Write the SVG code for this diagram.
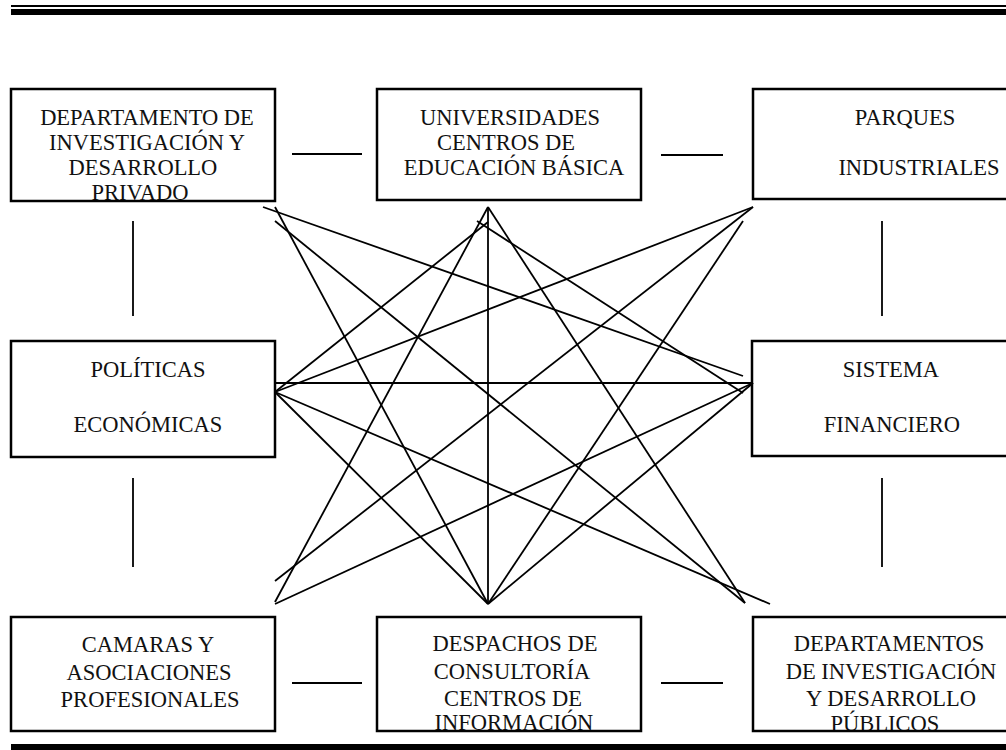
<svg xmlns="http://www.w3.org/2000/svg" width="1006" height="750" viewBox="0 0 1006 750">
<style>
.box{fill:none;stroke:#000;stroke-width:2.5}
.t{font-family:"Liberation Serif","Times New Roman",serif;font-size:22.5px;fill:#111;text-anchor:middle}
.c line{stroke:#000;stroke-width:1.8}
.rule{fill:#000}
</style>
<rect width="1006" height="750" fill="#fff"/>
<g id="rules">
<rect class="rule" x="11" y="5" width="995" height="2"/>
<rect class="rule" x="11" y="9" width="995" height="6"/>
<rect class="rule" x="11" y="744" width="995" height="6"/>
</g>
<g class="c" id="connectors">
<line x1="292" y1="154" x2="362" y2="154"/>
<line x1="661" y1="155" x2="723" y2="155"/>
<line x1="292" y1="683" x2="362" y2="683"/>
<line x1="661" y1="683" x2="723" y2="683"/>
<line x1="133" y1="221" x2="133" y2="316"/>
<line x1="133" y1="478" x2="133" y2="567"/>
<line x1="882" y1="221" x2="882" y2="316"/>
<line x1="882" y1="478" x2="882" y2="567"/>
<line x1="263" y1="207" x2="743" y2="376"/>
<line x1="275" y1="207" x2="488" y2="604"/>
<line x1="275" y1="221" x2="745" y2="603"/>
<line x1="488" y1="207" x2="488" y2="604"/>
<line x1="488" y1="207" x2="275" y2="602"/>
<line x1="488" y1="222" x2="275" y2="392"/>
<line x1="477" y1="221" x2="743" y2="393"/>
<line x1="488" y1="207" x2="745" y2="603"/>
<line x1="753" y1="207" x2="275" y2="392"/>
<line x1="753" y1="207" x2="275" y2="581"/>
<line x1="743" y1="221" x2="488" y2="604"/>
<line x1="275" y1="383" x2="753" y2="383"/>
<line x1="275" y1="392" x2="488" y2="604"/>
<line x1="275" y1="392" x2="770" y2="604"/>
<line x1="753" y1="383" x2="275" y2="604"/>
<line x1="753" y1="383" x2="488" y2="604"/>
</g>
<g id="n1">
<text class="t" x="147" y="125">DEPARTAMENTO DE</text>
<text class="t" x="147" y="150">INVESTIGACIÓN Y</text>
<text class="t" x="143" y="175">DESARROLLO</text>
<text class="t" x="140" y="200">PRIVADO</text>
<rect class="box" x="11" y="89" width="264" height="112"/>
</g>
<g id="n2">
<text class="t" x="510" y="125">UNIVERSIDADES</text>
<text class="t" x="506" y="150">CENTROS DE</text>
<text class="t" x="514" y="175">EDUCACIÓN BÁSICA</text>
<rect class="box" x="377" y="89" width="264" height="111"/>
</g>
<g id="n3">
<text class="t" x="905" y="125">PARQUES</text>
<text class="t" x="919" y="175">INDUSTRIALES</text>
<rect class="box" x="753" y="89" width="260" height="110"/>
</g>
<g id="n4">
<text class="t" x="148" y="377">POLÍTICAS</text>
<text class="t" x="148" y="432">ECONÓMICAS</text>
<rect class="box" x="11" y="341" width="264" height="116"/>
</g>
<g id="n5">
<text class="t" x="891" y="377">SISTEMA</text>
<text class="t" x="892" y="432">FINANCIERO</text>
<rect class="box" x="752" y="341" width="260" height="115"/>
</g>
<g id="n6">
<text class="t" x="148" y="652">CAMARAS Y</text>
<text class="t" x="149" y="680">ASOCIACIONES</text>
<text class="t" x="150" y="707">PROFESIONALES</text>
<rect class="box" x="11" y="617" width="264" height="114"/>
</g>
<g id="n7">
<text class="t" x="515" y="651">DESPACHOS DE</text>
<text class="t" x="512" y="679">CONSULTORÍA</text>
<text class="t" x="513" y="706">CENTROS DE</text>
<text class="t" x="514" y="730">INFORMACIÓN</text>
<rect class="box" x="377" y="617" width="264" height="114"/>
</g>
<g id="n8">
<text class="t" x="889" y="651">DEPARTAMENTOS</text>
<text class="t" x="891" y="679">DE INVESTIGACIÓN</text>
<text class="t" x="891" y="706">Y DESARROLLO</text>
<text class="t" x="885" y="731">PÚBLICOS</text>
<rect class="box" x="753" y="617" width="260" height="114"/>
</g>
</svg>
